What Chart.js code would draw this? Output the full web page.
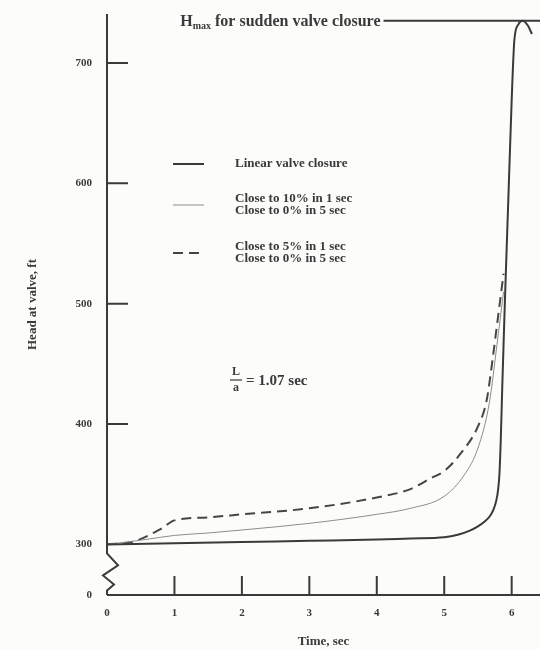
<!DOCTYPE html>
<html>
<head>
<meta charset="utf-8">
<script src="https://cdn.jsdelivr.net/npm/chart.js@4.4.0/dist/chart.umd.min.js"></script>
<style>
  body { margin: 0; background: #fcfcfa; }
  #chart { display: block; }
</style>
</head>
<body>
<canvas id="chart" width="540" height="650"></canvas>
<script>
// 線形閉鎖
var linearTime = [0, 1, 2, 3, 4, 4.5, 5, 5.2, 5.38, 5.5, 5.6, 5.67, 5.73, 5.77, 5.8, 5.82, 5.84, 5.86, 5.9, 5.95, 6.0, 6.04, 6.1, 6.16, 6.24, 6.3];
var linearHead = [300, 301, 302, 303, 304, 305, 306, 308, 311.5, 315, 319, 323, 329, 336, 346, 360, 390, 430, 503, 586, 669, 719, 732, 735, 731, 724];
// 1秒で10%, 5秒で0%
var tenTime = [0, 0.5, 1, 1.5, 2, 3, 4, 4.5, 5, 5.3, 5.5, 5.67, 5.78, 5.88];
var tenHead = [300, 303.5, 307.5, 309.5, 312, 317.5, 325, 330, 340, 358, 380, 418, 465, 510];
// 1秒で5%, 5秒で0%
var fiveTime = [0, 0.4, 0.8, 1, 1.5, 2, 3, 4, 4.5, 4.8, 5, 5.25, 5.5, 5.63, 5.72, 5.8, 5.88];
var fiveHead = [300, 302.5, 313, 320, 322.5, 325, 330, 339, 346, 355, 361, 376, 398, 420, 455, 490, 525];
// 急閉鎖のHmax
var hmaxTime = [4.1, 6.42];
var hmaxHead = [735, 735];

var xTicks = [0, 1, 2, 3, 4, 5, 6];
var yTicks = [258, 300, 400, 500, 600, 700];
var yBreak = 258; // 軸の切れ目、ここを0と表示
var legendLabels = [["Linear valve closure"], ["Close to 10% in 1 sec", "Close to 0% in 5 sec"], ["Close to 5% in 1 sec", "Close to 0% in 5 sec"]];

function toPoints(xs, ys) {
  var pts = [];
  for (var i = 0; i < xs.length; i++) {
    pts.push({ x: xs[i], y: ys[i] });
  }
  return pts;
}

var ink = "#3a3a3a";
var serif = '"Liberation Serif", "DejaVu Serif", serif';

var axesPlugin = {
  id: "axesPlugin",
  afterDatasetsDraw: function (chart) {
    var ctx = chart.ctx;
    var xs = chart.scales.x;
    var ys = chart.scales.y;
    var x0 = xs.getPixelForValue(0);
    var yb = ys.getPixelForValue(yBreak);
    var y300 = ys.getPixelForValue(300);
    ctx.save();
    ctx.strokeStyle = ink;
    ctx.lineWidth = 2;
    // 縦軸と切れ目のジグザグ
    ctx.beginPath();
    ctx.moveTo(x0, chart.chartArea.top);
    ctx.lineTo(x0, y300 + 9);
    ctx.lineTo(x0 + 11, y300 + 21);
    ctx.lineTo(x0 - 4, y300 + 31);
    ctx.lineTo(x0 + 7, y300 + 40);
    ctx.lineTo(x0, y300 + 46);
    ctx.lineTo(x0, yb);
    ctx.stroke();
    // 横軸
    ctx.beginPath();
    ctx.moveTo(x0, yb);
    ctx.lineTo(chart.chartArea.right, yb);
    ctx.stroke();
    // 目盛り（内向き）
    ctx.beginPath();
    xTicks.forEach(function (v) {
      if (v === 0) return;
      var px = xs.getPixelForValue(v);
      ctx.moveTo(px, yb);
      ctx.lineTo(px, yb - 19);
    });
    yTicks.forEach(function (v) {
      if (v <= 300) return;
      var py = ys.getPixelForValue(v);
      ctx.moveTo(x0, py);
      ctx.lineTo(x0 + 21, py);
    });
    ctx.stroke();

    // Hmax の注記
    var hx = xs.getPixelForValue(hmaxTime[0]) - 3;
    var hy = ys.getPixelForValue(hmaxHead[0]) + 1;
    ctx.fillStyle = ink;
    ctx.textBaseline = "middle";
    ctx.textAlign = "right";
    ctx.font = "bold 16px " + serif;
    var rest = " for sudden valve closure";
    ctx.fillText(rest, hx, hy);
    var wRest = ctx.measureText(rest).width;
    ctx.font = "bold 10px " + serif;
    ctx.fillText("max", hx - wRest, hy + 5);
    var wMax = ctx.measureText("max").width;
    ctx.font = "bold 16px " + serif;
    ctx.fillText("H", hx - wRest - wMax, hy);

    // 凡例
    var legendY = [164, 205, 253];
    var dashes = [[], [], [10, 6]];
    var widths = [2, 1, 2];
    var colors = [ink, "#8c8c8c", "#454545"];
    ctx.textAlign = "left";
    ctx.font = "bold 13px " + serif;
    for (var i = 0; i < legendLabels.length; i++) {
      ctx.beginPath();
      ctx.setLineDash(dashes[i]);
      ctx.lineWidth = widths[i];
      ctx.strokeStyle = colors[i];
      ctx.moveTo(173, legendY[i]);
      ctx.lineTo(204, legendY[i]);
      ctx.stroke();
      var lines = legendLabels[i];
      for (var j = 0; j < lines.length; j++) {
        var ty = legendY[i] + (j - (lines.length - 1) / 2) * 12;
        ctx.fillText(lines[j], 235, ty);
      }
    }
    ctx.setLineDash([]);

    // L/a = 1.07 sec
    var fy = 380;
    ctx.font = "bold 12px " + serif;
    ctx.textAlign = "center";
    ctx.fillText("L", 236, fy - 8);
    ctx.fillText("a", 236, fy + 8);
    ctx.lineWidth = 1.2;
    ctx.strokeStyle = ink;
    ctx.beginPath();
    ctx.moveTo(230, fy);
    ctx.lineTo(242, fy);
    ctx.stroke();
    ctx.textAlign = "left";
    ctx.font = "bold 15px " + serif;
    ctx.fillText("= 1.07 sec", 246, fy + 1);
    ctx.restore();
  },
};

var chart = new Chart(document.getElementById("chart"), {
  type: "line",
  data: {
    datasets: [
      {
        data: toPoints(linearTime, linearHead),
        borderColor: ink,
        borderWidth: 2,
        pointRadius: 0,
        cubicInterpolationMode: "monotone",
      },
      {
        data: toPoints(tenTime, tenHead),
        borderColor: "#8c8c8c",
        borderWidth: 1,
        pointRadius: 0,
        cubicInterpolationMode: "monotone",
      },
      {
        data: toPoints(fiveTime, fiveHead),
        borderColor: "#454545",
        borderWidth: 2,
        borderDash: [10, 6],
        pointRadius: 0,
        cubicInterpolationMode: "monotone",
      },
      {
        data: toPoints(hmaxTime, hmaxHead),
        borderColor: ink,
        borderWidth: 2,
        pointRadius: 0,
      },
    ],
  },
  options: {
    responsive: false,
    animation: false,
    layout: { padding: { top: 14, right: 0, left: 0, bottom: 0 } },
    plugins: { legend: { display: false }, tooltip: { enabled: false } },
    scales: {
      x: {
        type: "linear",
        min: 0,
        max: 6.42,
        grid: { display: false, drawTicks: false },
        border: { display: false },
        afterBuildTicks: function (scale) {
          scale.ticks = xTicks.map(function (v) { return { value: v }; });
        },
        afterFit: function (scale) {
          scale.height = 55;
          scale.paddingLeft = 0;
          scale.paddingRight = 0;
        },
        ticks: {
          color: ink,
          padding: 12,
          maxRotation: 0,
          font: { family: serif, size: 11, weight: "bold" },
        },
        title: {
          display: true,
          text: "Time, sec",
          color: ink,
          font: { family: serif, size: 13, weight: "bold" },
          padding: { top: 0, bottom: 1 },
        },
      },
      y: {
        type: "linear",
        min: 258,
        max: 740.6,
        grid: { display: false, drawTicks: false },
        border: { display: false },
        afterBuildTicks: function (scale) {
          scale.ticks = yTicks.map(function (v) { return { value: v }; });
        },
        afterFit: function (scale) {
          scale.width = 107;
          scale.paddingTop = 0;
          scale.paddingBottom = 0;
        },
        ticks: {
          color: ink,
          padding: 15,
          font: { family: serif, size: 11, weight: "bold" },
          callback: function (v) {
            return v === yBreak ? "0" : v;
          },
        },
        title: {
          display: true,
          text: "Head at valve, ft",
          color: ink,
          font: { family: serif, size: 13, weight: "bold" },
          padding: { top: 25, bottom: 0 },
        },
      },
    },
  },
  plugins: [axesPlugin],
});
</script>
</body>
</html>
